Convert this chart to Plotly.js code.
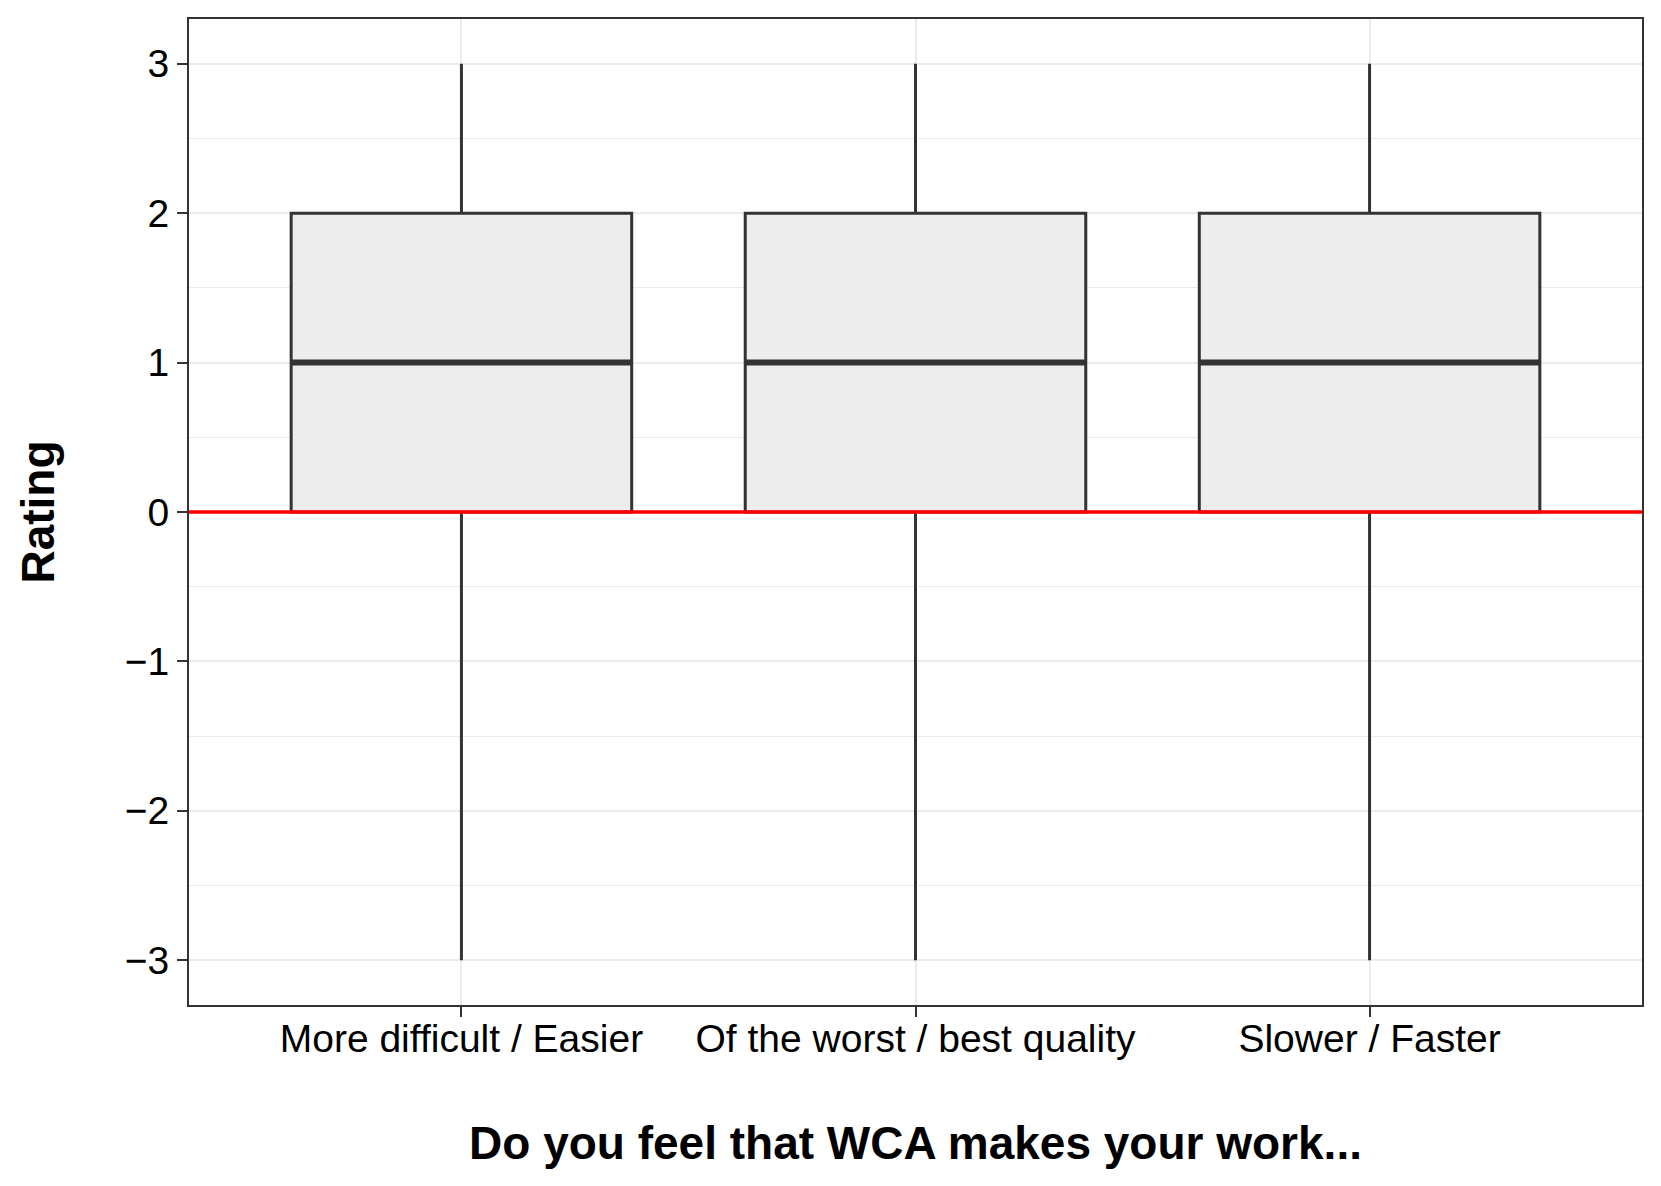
<!DOCTYPE html>
<html>
<head>
<meta charset="utf-8">
<script src="https://cdn.plot.ly/plotly-3.0.1.min.js"></script>
<style>html,body{margin:0;padding:0;background:#fff;}</style>
</head>
<body>
<div id="chart" style="width:1661px;height:1186px;"></div>
<script>
// Data
const categories = ["More difficult / Easier", "Of the worst / best quality", "Slower / Faster"];
const lowerWhisker = [-3, -3, -3];
const q1 = [0, 0, 0];
const median = [1, 1, 1];
const q3 = [2, 2, 2];
const upperWhisker = [3, 3, 3];
const yTicks = [-3, -2, -1, 0, 1, 2, 3];
const xTitle = "Do you feel that WCA makes your work...";
const yTitle = "Rating";

const boxWidth = 0.75;
const idx = categories.map((_, i) => i);

const boxTrace = {
  type: 'box',
  x: idx,
  q1: q1,
  median: median,
  q3: q3,
  lowerfence: lowerWhisker,
  upperfence: upperWhisker,
  width: boxWidth,
  whiskerwidth: 0,
  fillcolor: '#ededed',
  line: {color: '#333333', width: 3},
  boxpoints: false,
  hoverinfo: 'skip',
  showlegend: false
};

// thicker median segments (ggplot style)
const mx = [], my = [];
idx.forEach(i => {
  mx.push(i - boxWidth / 2, i + boxWidth / 2, null);
  my.push(median[i], median[i], null);
});
const medianTrace = {
  type: 'scatter', mode: 'lines', x: mx, y: my,
  line: {color: '#333333', width: 6}, hoverinfo: 'skip', showlegend: false
};

const font = "'Liberation Sans', Arial, Helvetica, sans-serif";

const layout = {
  width: 1661, height: 1186,
  margin: {l: 189, r: 19, t: 19, b: 181},
  paper_bgcolor: '#ffffff', plot_bgcolor: '#ffffff',
  showlegend: false,
  font: {family: font, color: '#000000'},
  xaxis: {
    range: [-0.6, 2.6],
    tickvals: idx, ticktext: categories,
    tickfont: {size: 39, color: '#000000', family: font},
    ticks: 'outside', ticklen: 10, tickwidth: 2, tickcolor: '#333333',
    ticklabelstandoff: -12,
    showgrid: true, gridcolor: '#ebebeb', gridwidth: 2,
    zeroline: false,
    showline: true, mirror: true, linecolor: '#333333', linewidth: 2,
    title: {text: '<b>' + xTitle + '</b>', font: {size: 46, color: '#000000', family: font}, standoff: 68},
    automargin: false
  },
  yaxis: {
    range: [-3.3, 3.3],
    tickvals: yTicks,
    tickfont: {size: 39, color: '#000000', family: font},
    ticks: 'outside', ticklen: 10, tickwidth: 2, tickcolor: '#333333',
    showgrid: true, gridcolor: '#ebebeb', gridwidth: 2,
    minor: {dtick: 0.5, tick0: 0.5, showgrid: true, gridcolor: '#ebebeb', gridwidth: 1, ticks: ''},
    zeroline: false,
    showline: true, mirror: true, linecolor: '#333333', linewidth: 2,
    title: {text: '<b>' + yTitle + '</b>', font: {size: 46, color: '#000000', family: font}, standoff: 56},
    automargin: false
  },
  shapes: [{
    type: 'line', xref: 'paper', yref: 'y', x0: 0, x1: 1, y0: 0, y1: 0,
    line: {color: '#ff0000', width: 3.5}, layer: 'above'
  }]
};

Plotly.newPlot('chart', [boxTrace, medianTrace], layout, {staticPlot: true, displayModeBar: false});
</script>
</body>
</html>
